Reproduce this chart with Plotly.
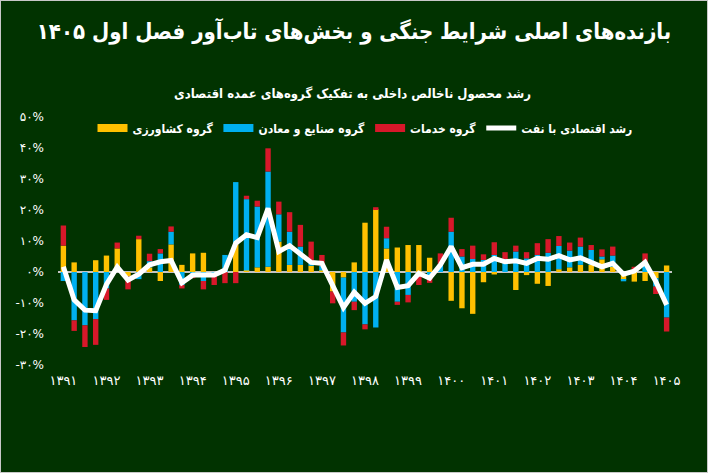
import plotly.graph_objects as go

# ---------------- data ----------------
years = ['1391', '1392', '1393', '1394', '1395', '1396', '1397', '1398',
         '1399', '1400', '1401', '1402', '1403', '1404', '1405']
year_labels = ['۱۳۹۱', '۱۳۹۲', '۱۳۹۳', '۱۳۹۴', '۱۳۹۵', '۱۳۹۶', '۱۳۹۷', '۱۳۹۸',
               '۱۳۹۹', '۱۴۰۰', '۱۴۰۱', '۱۴۰۲', '۱۴۰۳', '۱۴۰۴', '۱۴۰۵']
quarters = [f"{y}-Q{q}" for y in years[:-1] for q in range(1, 5)] + ["1405-Q1"]

# contribution to growth (percentage points)
agri = [8.5, 3.1, 0.0, 3.8, 5.3, 7.6, -1.4, 10.6, 1.5, -2.9,
        8.9, 2.3, 6.0, 6.2, 0.0, 0.0, 9.0, 0.5, 1.5, 1.7,
        9.8, 2.3, 2.3, 2.0, 0.5, -6.3, -1.8, 3.1, 15.9, 20.3,
        7.6, 7.9, 8.7, 8.7, 4.6, 0.0, -9.3, -11.7, -13.5, -3.3,
        -0.8, 0.0, -5.8, -1.0, -3.8, -4.5, 0.9, 1.5, 2.3, 2.3,
        4.1, 1.7, -2.5, -3.1, -2.9, -2.0, 2.1]
industry = [-2.9, -15.6, -17.2, -15.2, -5.3, 0.0, 0.0, -2.3, 2.0, 6.0,
            4.1, -4.2, -0.5, -2.9, -1.2, 5.5, 20.0, 23.0, 19.6, 30.7,
            8.8, 10.7, 5.9, 1.5, 1.5, 0.0, -17.7, -9.6, -16.9, -17.9,
            3.3, -9.6, -7.4, -1.0, -1.0, 2.5, 13.0, 5.0, 4.2, 3.9,
            5.5, 4.2, 6.6, 4.4, 5.5, 6.2, 7.5, 5.4, 5.9, 4.8,
            0.9, 3.6, -0.5, 0.0, 3.3, -2.7, -14.7]
services = [6.5, -3.4, -7.0, -8.3, -3.7, 1.9, -4.2, 1.1, 2.4, 1.4,
            1.7, -1.1, -1.5, -2.7, -3.0, -3.6, -3.6, 1.1, 1.9, 7.5,
            4.1, 6.3, 7.0, 6.3, 3.5, -3.8, -4.2, -2.7, -1.6, 0.6,
            3.7, -1.0, -2.4, -3.2, -2.5, 3.5, 4.5, 2.4, 4.3, 1.8,
            4.1, 2.2, 1.9, 2.0, 3.8, 4.4, 3.2, 2.6, 2.9, 1.6,
            2.3, 2.9, 0.0, 1.7, 2.7, -2.4, -4.5]
gdp_oil = [1.7, -9.0, -12.3, -12.5, -4.0, 1.6, -2.6, -0.7, 2.3, 3.3,
           3.7, -3.5, -1.0, -1.0, -1.0, 0.6, 9.3, 12.0, 11.1, 20.5,
           6.6, 8.5, 6.0, 3.1, 2.8, -4.2, -11.5, -6.5, -10.1, -7.9,
           3.9, -5.0, -4.4, -0.4, -2.0, 2.3, 8.2, 1.4, 2.5, 2.5,
           4.4, 3.3, 3.6, 2.8, 4.4, 4.1, 5.3, 3.9, 4.6, 3.1,
           1.7, 2.8, -0.7, 0.3, 3.1, -3.1, -10.6]

series_names = ['گروه کشاورزی', 'گروه صنایع و معادن', 'گروه خدمات', 'رشد اقتصادی با نفت']
y_ticks = [-30, -20, -10, 0, 10, 20, 30, 40, 50]
y_tick_labels = ['-۳۰%', '-۲۰%', '-۱۰%', '۰%', '۱۰%', '۲۰%', '۳۰%', '۴۰%', '۵۰%']

title_text = 'بازنده‌های اصلی شرایط جنگی و بخش‌های تاب‌آور فصل اول ۱۴۰۵'
subtitle_text = 'رشد محصول ناخالص داخلی به تفکیک گروه‌های عمده اقتصادی'

# ---------------- style ----------------
W, H = 708, 473
ML, MR, MT, MB = 58, 36, 117, 108
PW, PH = W - ML - MR, H - MT - MB
BG = '#013300'
YELLOW, BLUE, RED = '#FFC000', '#00B0F0', '#D7182A'
FONT = 'DejaVu Sans'
FONT_C = 'DejaVu Sans Condensed, DejaVu Sans'

fig = go.Figure()
for vals, name, col in [(agri, series_names[0], YELLOW),
                        (industry, series_names[1], BLUE),
                        (services, series_names[2], RED)]:
    fig.add_trace(go.Bar(x=quarters, y=vals, name=name, marker_color=col,
                         marker_line_width=0, showlegend=False))
    # legend entry drawn as a wide swatch
    fig.add_trace(go.Scatter(x=[None], y=[None], mode='lines', name='<b>' + name + '</b>',
                             line=dict(color=col, width=8), showlegend=True,
                             hoverinfo='skip'))

fig.add_trace(go.Scatter(x=quarters, y=gdp_oil, mode='lines',
                         name='<b>' + series_names[3] + '</b>',
                         line=dict(color='white', width=5), showlegend=True))

fig.update_layout(
    width=W, height=H,
    margin=dict(l=ML, r=MR, t=MT, b=MB),
    paper_bgcolor=BG, plot_bgcolor=BG,
    barmode='relative', bargap=0.5,
    font=dict(family=FONT, color='white', size=12),
    title=dict(text='<b>' + title_text + '</b>', x=(354 - ML) / PW, xref='paper',
               xanchor='center', y=1 - 31 / H, yanchor='middle',
               font=dict(family=FONT_C, size=22, color='white')),
    legend=dict(orientation='h', x=0.5, xanchor='center', y=(H - MB - 128) / PH,
                yanchor='middle', bgcolor='rgba(0,0,0,0)',
                font=dict(family=FONT_C, size=12, color='white'),
                itemwidth=30, traceorder='normal'),
    xaxis=dict(type='category', showgrid=False, zeroline=False, showline=False,
               tickmode='array', tickvals=quarters[::4], ticktext=year_labels,
               ticks='', ticklabelstandoff=6,
               tickfont=dict(family=FONT, size=13, color='white'),
               range=[-0.5, len(quarters) - 0.5]),
    yaxis=dict(range=[-30, 50], showgrid=False, zeroline=True,
               zerolinecolor='#c4c4c4', zerolinewidth=2,
               tickmode='array', tickvals=y_ticks, ticktext=y_tick_labels,
               ticks='', ticklabelstandoff=13,
               tickfont=dict(family=FONT, size=12, color='white')),
    annotations=[dict(text='<b>' + subtitle_text + '</b>', xref='paper', yref='paper',
                      x=(352 - ML) / PW, y=(H - MB - 93) / PH,
                      xanchor='center', yanchor='middle', showarrow=False,
                      font=dict(family=FONT_C, size=13, color='white'))],
    shapes=[dict(type='rect', xref='paper', yref='paper',
                 x0=-ML / PW, x1=1 + MR / PW,
                 y0=-MB / PH, y1=1 + MT / PH,
                 line=dict(color='#c8c8c8', width=2), layer='below')],
)

fig.write_html('out.html', config={'displayModeBar': False},
               post_script="document.body.style.margin='0';")
